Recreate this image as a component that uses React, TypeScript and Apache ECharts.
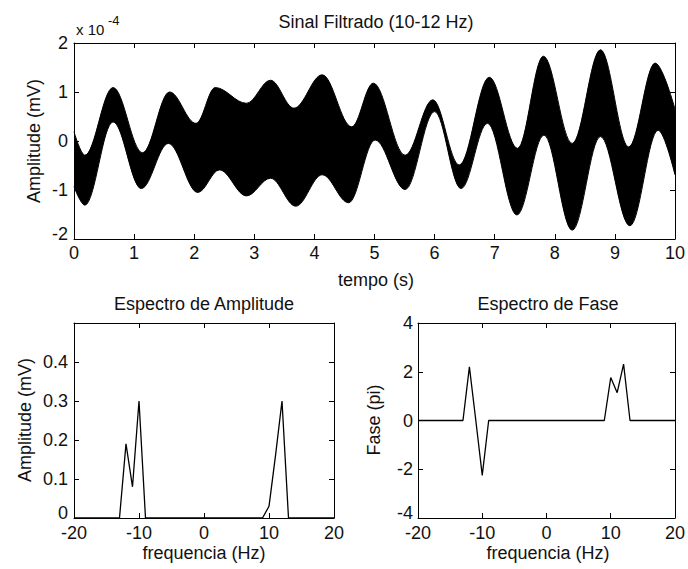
import React, { useEffect, useRef } from "react";
import * as echarts from "echarts";

// Top panel: envelope of the filtered signal (units of 1e-4 mV)
const UPPER_T = [0, 0.18, 0.65, 1.14, 1.59, 2.03, 2.35, 2.87, 3.27, 3.66, 4.13, 4.62, 4.98, 5.51, 5.97, 6.41, 6.91, 7.38, 7.81, 8.29, 8.76, 9.23, 9.67, 10];
const UPPER_V = [0.19, -0.29, 1.09, -0.24, 1.0, 0.36, 1.09, 0.77, 1.24, 0.67, 1.35, 0.29, 1.18, -0.29, 0.84, -0.49, 1.3, -0.15, 1.73, -0.05, 1.86, -0.12, 1.59, 0.65];
const LOWER_T = [0, 0.18, 0.65, 1.12, 1.57, 2.06, 2.42, 2.87, 3.27, 3.69, 4.13, 4.57, 5.01, 5.51, 6.0, 6.44, 6.88, 7.37, 7.82, 8.29, 8.76, 9.25, 9.72, 10];
const LOWER_V = [-0.93, -1.31, 0.39, -0.97, -0.05, -1.05, -0.59, -1.12, -0.76, -1.33, -0.69, -1.26, 0.02, -0.99, 0.6, -0.97, 0.36, -1.51, 0.12, -1.82, 0.09, -1.73, 0.22, -0.69];

// Bottom-left: amplitude spectrum
const AMP_FREQ = [-20, -13, -12, -11, -10, -9, 9, 10, 11, 12, 13, 20];
const AMP_VAL = [0, 0, 0.19, 0.08, 0.3, 0, 0, 0.03, 0.16, 0.3, 0, 0];

// Bottom-right: phase spectrum
const PHASE_FREQ = [-20, -13, -12, -11, -10, -9, 9, 10, 11, 12, 13, 20];
const PHASE_VAL = [0, 0, 2.2, 0, -2.25, 0, 0, 1.76, 1.14, 2.31, 0, 0];

const TITLE_TOP = "Sinal Filtrado (10-12 Hz)";
const TITLE_AMP = "Espectro de Amplitude";
const TITLE_PHASE = "Espectro de Fase";

const FONT = "Liberation Sans, Arial, sans-serif";
const FS = 18;
const INK = "#111";

export default function App() {
  const ref = useRef<HTMLDivElement>(null);
  useEffect(() => {
    const chart = echarts.init(ref.current!, null, { renderer: "svg" });
    const pair = (xs: number[], ys: number[]) => xs.map((x, i) => [x, ys[i]]);

    const axis = (gridIndex: number, position: string, min: number, max: number, interval: number, labels: boolean, extra: any = {}) => ({
      type: "value",
      gridIndex,
      position,
      min,
      max,
      interval,
      z: 10,
      axisLine: { show: true, onZero: false, lineStyle: { color: "#000", width: 1 } },
      axisTick: { show: true, inside: true, length: 5, lineStyle: { color: "#000", width: 1 } },
      splitLine: { show: false },
      axisLabel: {
        show: labels,
        color: INK,
        fontFamily: FONT,
        fontSize: FS,
        margin: 6,
        ...(extra.axisLabel || {}),
      },
    });

    // y labels: the lowest one sits slightly above its tick, as in the reference
    const yLabel = (min: number, margin = 6, extra: any = {}) => ({
      axisLabel: {
        margin,
        formatter: (v: number) => (v === min ? `{lo|${v}}` : `${v}`),
        rich: { lo: { fontSize: FS, fontFamily: FONT, color: INK, padding: [0, 0, 10, 0] } },
        ...extra,
      },
    });

    const text = (t: string, x: number, y: number, opts: any = {}) => ({
      type: "text",
      x,
      y,
      rotation: opts.rotation || 0,
      silent: true,
      style: {
        text: t,
        fill: INK,
        fontSize: opts.size || FS,
        fontFamily: FONT,
        align: opts.align || "center",
        verticalAlign: "middle",
      },
    });

    chart.setOption({
      animation: false,
      backgroundColor: "#fff",
      grid: [
        { left: 74, top: 43, width: 605, height: 196 },
        { left: 74, top: 323, width: 260, height: 195 },
        { left: 418, top: 323, width: 261, height: 195 },
      ],
      xAxis: [
        axis(0, "bottom", 0, 10, 1, true, { axisLabel: { margin: 5 } }),
        axis(0, "top", 0, 10, 1, false),
        axis(1, "bottom", -20, 20, 10, true),
        axis(1, "top", -20, 20, 10, false),
        axis(2, "bottom", -20, 20, 10, true),
        axis(2, "top", -20, 20, 10, false),
      ],
      yAxis: [
        axis(0, "left", -2, 2, 1, true, yLabel(-2)),
        axis(0, "right", -2, 2, 1, false),
        axis(1, "left", 0, 0.5, 0.1, true, yLabel(0, 6, { showMaxLabel: false })),
        axis(1, "right", 0, 0.5, 0.1, false),
        axis(2, "left", -4, 4, 2, true, yLabel(-4, 5)),
        axis(2, "right", -4, 4, 2, false),
      ],
      series: [
        {
          type: "line",
          xAxisIndex: 0,
          yAxisIndex: 0,
          data: pair(UPPER_T, UPPER_V),
          smooth: 0.36,
          smoothMonotone: "x",
          symbol: "none",
          z: 2,
          lineStyle: { color: "#000", width: 1 },
          areaStyle: { color: "#000", opacity: 1, origin: "start" },
        },
        {
          type: "line",
          xAxisIndex: 0,
          yAxisIndex: 0,
          data: pair(LOWER_T, LOWER_V),
          smooth: 0.36,
          smoothMonotone: "x",
          symbol: "none",
          z: 3,
          lineStyle: { color: "#000", width: 1 },
          areaStyle: { color: "#fff", opacity: 1, origin: "start" },
        },
        {
          type: "line",
          xAxisIndex: 2,
          yAxisIndex: 2,
          data: pair(AMP_FREQ, AMP_VAL),
          symbol: "none",
          z: 4,
          lineStyle: { color: "#000", width: 1.3 },
        },
        {
          type: "line",
          xAxisIndex: 4,
          yAxisIndex: 4,
          data: pair(PHASE_FREQ, PHASE_VAL),
          symbol: "none",
          z: 4,
          lineStyle: { color: "#000", width: 1.3 },
        },
      ],
      graphic: [
        text(TITLE_TOP, 376, 22),
        text("tempo (s)", 376, 280),
        text("Amplitude (mV)", 34, 141, { rotation: Math.PI / 2 }),
        text("x 10", 76, 29, { size: 15, align: "left" }),
        text("-4", 108, 20, { size: 13, align: "left" }),
        text(TITLE_AMP, 204, 304),
        text("frequencia (Hz)", 204, 553),
        text("Amplitude (mV)", 25, 420, { rotation: Math.PI / 2 }),
        text(TITLE_PHASE, 548, 304),
        text("frequencia (Hz)", 548, 553),
        text("Fase (pi)", 374, 420, { rotation: Math.PI / 2 }),
      ],
    });
    return () => chart.dispose();
  }, []);
  return (
    <div
      ref={ref}
      style={{ position: "fixed", left: 0, top: 0, width: 688, height: 569, background: "#fff" }}
    />
  );
}
